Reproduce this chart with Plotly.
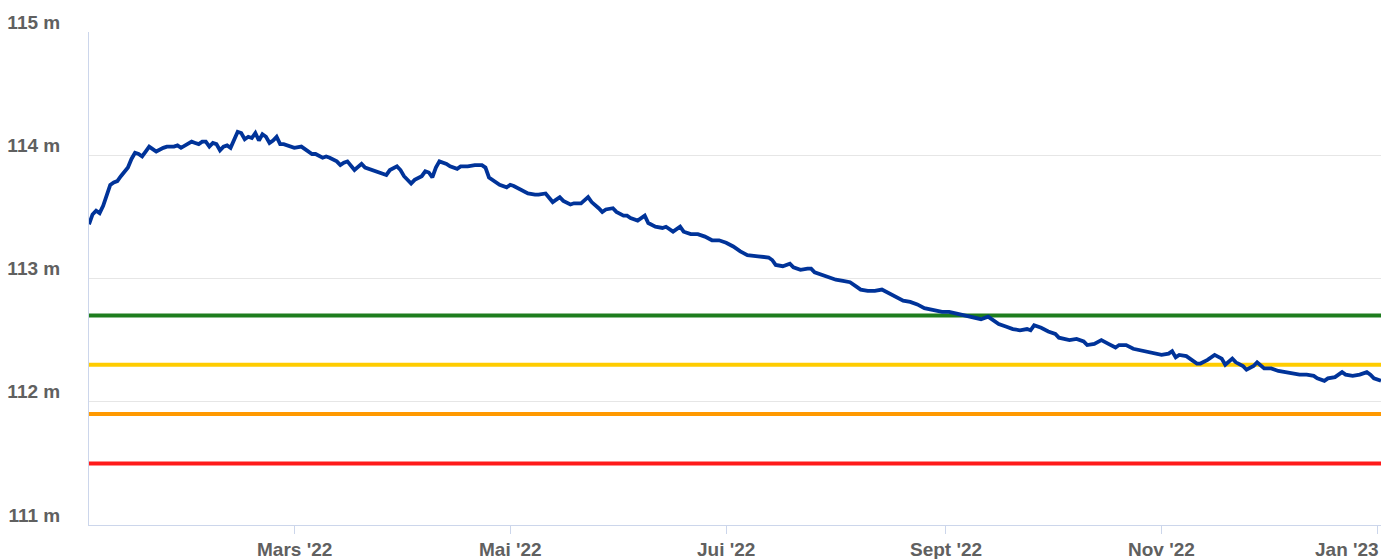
import plotly.graph_objects as go

# Water level series (m)
dates = [
    "2022-01-02", "2022-01-03", "2022-01-04", "2022-01-05", "2022-01-06", "2022-01-07", "2022-01-08",
    "2022-01-09", "2022-01-10", "2022-01-11", "2022-01-13", "2022-01-14", "2022-01-15", "2022-01-16",
    "2022-01-17", "2022-01-18", "2022-01-19", "2022-01-20", "2022-01-21", "2022-01-23", "2022-01-24",
    "2022-01-26", "2022-01-27", "2022-01-28", "2022-01-30", "2022-01-31", "2022-02-01", "2022-02-02",
    "2022-02-03", "2022-02-04", "2022-02-05", "2022-02-06", "2022-02-07", "2022-02-08", "2022-02-09",
    "2022-02-10", "2022-02-11", "2022-02-12", "2022-02-13", "2022-02-14", "2022-02-15", "2022-02-16",
    "2022-02-17", "2022-02-18", "2022-02-19", "2022-02-20", "2022-02-21", "2022-02-22", "2022-02-23",
    "2022-02-24", "2022-02-25", "2022-02-26", "2022-02-28", "2022-03-01", "2022-03-03", "2022-03-05",
    "2022-03-06", "2022-03-07", "2022-03-09", "2022-03-10", "2022-03-11", "2022-03-13", "2022-03-14",
    "2022-03-15", "2022-03-16", "2022-03-18", "2022-03-19", "2022-03-20", "2022-03-21", "2022-03-23",
    "2022-03-25", "2022-03-27", "2022-03-28", "2022-03-30", "2022-03-31", "2022-04-01", "2022-04-03",
    "2022-04-04", "2022-04-06", "2022-04-07", "2022-04-08", "2022-04-09", "2022-04-10", "2022-04-11",
    "2022-04-13", "2022-04-14", "2022-04-16", "2022-04-17", "2022-04-19", "2022-04-21", "2022-04-23",
    "2022-04-24", "2022-04-25", "2022-04-27", "2022-04-28", "2022-04-30", "2022-05-01", "2022-05-02",
    "2022-05-04", "2022-05-06", "2022-05-08", "2022-05-09", "2022-05-11", "2022-05-12", "2022-05-13",
    "2022-05-14", "2022-05-15", "2022-05-16", "2022-05-18", "2022-05-19", "2022-05-21", "2022-05-23",
    "2022-05-24", "2022-05-26", "2022-05-27", "2022-05-28", "2022-05-30", "2022-05-31", "2022-06-02",
    "2022-06-03", "2022-06-04", "2022-06-06", "2022-06-08", "2022-06-09", "2022-06-11", "2022-06-13",
    "2022-06-14", "2022-06-16", "2022-06-17", "2022-06-18", "2022-06-19", "2022-06-21", "2022-06-23",
    "2022-06-25", "2022-06-27", "2022-06-29", "2022-07-01", "2022-07-03", "2022-07-05", "2022-07-07",
    "2022-07-10", "2022-07-13", "2022-07-14", "2022-07-15", "2022-07-17", "2022-07-19", "2022-07-20",
    "2022-07-22", "2022-07-24", "2022-07-25", "2022-07-26", "2022-07-28", "2022-07-30", "2022-08-01",
    "2022-08-03", "2022-08-05", "2022-08-07", "2022-08-08", "2022-08-10", "2022-08-12", "2022-08-14",
    "2022-08-16", "2022-08-18", "2022-08-20", "2022-08-22", "2022-08-24", "2022-08-26", "2022-08-29",
    "2022-08-31", "2022-09-02", "2022-09-05", "2022-09-07", "2022-09-09", "2022-09-11", "2022-09-13",
    "2022-09-14", "2022-09-16", "2022-09-18", "2022-09-20", "2022-09-22", "2022-09-24", "2022-09-25",
    "2022-09-26", "2022-09-28", "2022-09-30", "2022-10-02", "2022-10-03", "2022-10-06", "2022-10-08",
    "2022-10-10", "2022-10-11", "2022-10-13", "2022-10-15", "2022-10-17", "2022-10-19", "2022-10-20",
    "2022-10-22", "2022-10-24", "2022-10-27", "2022-10-28", "2022-10-30", "2022-11-01", "2022-11-03",
    "2022-11-04", "2022-11-05", "2022-11-06", "2022-11-08", "2022-11-10", "2022-11-11", "2022-11-12",
    "2022-11-14", "2022-11-16", "2022-11-18", "2022-11-19", "2022-11-20", "2022-11-21", "2022-11-22",
    "2022-11-24", "2022-11-25", "2022-11-27", "2022-11-28", "2022-11-29", "2022-11-30", "2022-12-02",
    "2022-12-04", "2022-12-06", "2022-12-08", "2022-12-10", "2022-12-12", "2022-12-14", "2022-12-15",
    "2022-12-17", "2022-12-18", "2022-12-20", "2022-12-22", "2022-12-23", "2022-12-25", "2022-12-27",
    "2022-12-29", "2022-12-30", "2022-12-31", "2023-01-02",
]

levels = [
    113.44, 113.52, 113.55, 113.53, 113.59, 113.68, 113.76,
    113.78, 113.79, 113.83, 113.90, 113.97, 114.02, 114.01,
    113.99, 114.03, 114.07, 114.05, 114.03, 114.06, 114.07,
    114.07, 114.08, 114.06, 114.09, 114.11, 114.10, 114.09,
    114.11, 114.11, 114.07, 114.10, 114.09, 114.04, 114.07,
    114.08, 114.06, 114.13, 114.19, 114.18, 114.13, 114.15,
    114.14, 114.18, 114.12, 114.17, 114.15, 114.10, 114.12,
    114.15, 114.09, 114.09, 114.07, 114.06, 114.07, 114.03,
    114.01, 114.01, 113.98, 113.99, 113.98, 113.95, 113.92,
    113.94, 113.95, 113.88, 113.91, 113.93, 113.90, 113.88,
    113.86, 113.84, 113.88, 113.91, 113.88, 113.83, 113.77,
    113.80, 113.83, 113.87, 113.86, 113.82, 113.90, 113.95,
    113.93, 113.91, 113.89, 113.91, 113.91, 113.92, 113.92,
    113.90, 113.82, 113.78, 113.76, 113.74, 113.76, 113.75,
    113.72, 113.69, 113.68, 113.68, 113.69, 113.65, 113.62,
    113.64, 113.66, 113.63, 113.60, 113.61, 113.61, 113.66,
    113.62, 113.57, 113.54, 113.56, 113.57, 113.54, 113.51,
    113.51, 113.49, 113.47, 113.51, 113.45, 113.42, 113.41,
    113.42, 113.38, 113.40, 113.42, 113.38, 113.36, 113.36,
    113.34, 113.31, 113.31, 113.29, 113.26, 113.22, 113.19,
    113.18, 113.17, 113.15, 113.11, 113.10, 113.12, 113.09,
    113.07, 113.08, 113.08, 113.05, 113.03, 113.01, 112.99,
    112.98, 112.97, 112.93, 112.91, 112.90, 112.90, 112.91,
    112.88, 112.85, 112.82, 112.81, 112.79, 112.76, 112.74,
    112.73, 112.73, 112.71, 112.70, 112.69, 112.67, 112.69,
    112.67, 112.63, 112.61, 112.59, 112.58, 112.59, 112.58,
    112.62, 112.60, 112.57, 112.55, 112.52, 112.50, 112.51,
    112.49, 112.46, 112.47, 112.50, 112.47, 112.44, 112.46,
    112.46, 112.43, 112.41, 112.40, 112.39, 112.38, 112.39,
    112.41, 112.36, 112.38, 112.37, 112.33, 112.31, 112.31,
    112.34, 112.38, 112.35, 112.30, 112.33, 112.35, 112.32,
    112.29, 112.26, 112.29, 112.32, 112.29, 112.27, 112.27,
    112.25, 112.24, 112.23, 112.22, 112.22, 112.21, 112.19,
    112.17, 112.19, 112.20, 112.24, 112.22, 112.21, 112.22,
    112.24, 112.22, 112.19, 112.17,
]

# Alert thresholds (m)
threshold_levels = [112.7, 112.3, 111.9, 111.5]
threshold_colors = ["#1e7d1e", "#ffcc00", "#ff9900", "#ff1a1a"]

# Axis ticks
x_tick_dates = ["2022-03-01", "2022-05-01", "2022-07-01", "2022-09-01", "2022-11-01", "2023-01-01"]
x_tick_labels = ["Mars '22", "Mai '22", "Jui '22", "Sept '22", "Nov '22", "Jan '23"]
y_tick_values = [111, 112, 113, 114, 115]
y_tick_labels = ["111 m", "112 m", "113 m", "114 m", "115 m"]

x_range = ["2022-01-02", "2023-01-02"]

FONT = "Liberation Sans, Arial, sans-serif"
LABEL_COLOR = "#606060"
AXIS_COLOR = "#ccd6eb"
LABEL_SIZE = 19

fig = go.Figure()

for lvl, col in zip(threshold_levels, threshold_colors):
    fig.add_trace(go.Scatter(
        x=x_range, y=[lvl, lvl], mode="lines",
        line=dict(color=col, width=4), hoverinfo="skip", showlegend=False,
    ))

fig.add_trace(go.Scatter(
    x=dates, y=levels, mode="lines",
    line=dict(color="#003399", width=3.8, shape="linear"),
    showlegend=False,
))

annotations = []
for d, t in zip(x_tick_dates, x_tick_labels):
    if d == x_tick_dates[-1]:
        annotations.append(dict(
            x=1, xref="paper", y=0, yref="paper", text=t, showarrow=False,
            xanchor="right", yanchor="middle", yshift=-24,
            font=dict(family=FONT, size=LABEL_SIZE, color=LABEL_COLOR, weight="bold"),
        ))
    else:
        annotations.append(dict(
            x=d, xref="x", y=0, yref="paper", text=t, showarrow=False,
            xanchor="center", yanchor="middle", yshift=-24,
            font=dict(family=FONT, size=LABEL_SIZE, color=LABEL_COLOR, weight="bold"),
        ))

fig.update_layout(
    width=1396, height=559,
    margin=dict(l=89, r=15, t=32, b=34, autoexpand=False),
    paper_bgcolor="white", plot_bgcolor="white",
    showlegend=False,
    annotations=annotations,
    xaxis=dict(
        type="date", range=x_range, automargin=False,
        tickvals=x_tick_dates, ticktext=[""] * len(x_tick_dates),
        ticks="outside", ticklen=8, tickcolor=AXIS_COLOR, tickwidth=1,
        showgrid=False, zeroline=False,
        showline=True, linecolor=AXIS_COLOR, linewidth=1,
    ),
    yaxis=dict(
        range=[111, 115], automargin=False,
        tickvals=y_tick_values, ticktext=y_tick_labels,
        showgrid=True, gridcolor="#e6e6e6", gridwidth=1,
        zeroline=False,
        showline=True, linecolor=AXIS_COLOR, linewidth=1,
        ticks="", ticklabelstandoff=24, ticklabelshift=-10,
        tickfont=dict(family=FONT, size=LABEL_SIZE, color=LABEL_COLOR, weight="bold"),
    ),
)

fig.write_html(
    "out.html",
    config={"displayModeBar": False},
    post_script="document.body.style.margin='0';document.body.style.overflow='hidden';",
)
